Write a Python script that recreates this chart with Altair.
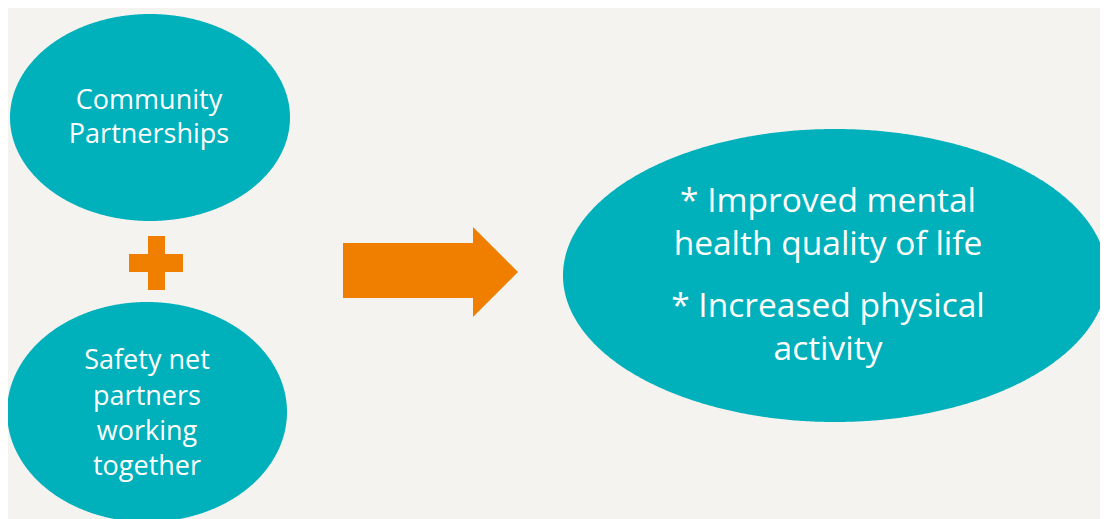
import numpy as np
import pandas as pd
import altair as alt

# ---- shape data (in reference-pixel coordinates) ----
ellipse_id = ["community", "safety", "outcomes"]
ellipse_cx = [150, 147, 835]
ellipse_cy = [117.5, 412, 275.5]
ellipse_rx = [140, 140, 272]
ellipse_ry = [103.5, 110, 146.5]

plus_bar_id = ["vertical", "horizontal"]
plus_x1 = [148, 129]
plus_x2 = [165, 183]
plus_y1 = [236, 254]
plus_y2 = [290, 272]

arrow_shaft = {"x1": 343, "x2": 473, "y1": 243, "y2": 298}
arrow_head_x = [473, 518]
arrow_head_top = [227, 272]
arrow_head_bottom = [317, 272]

label_text = ["Community", "Partnerships",
              "Safety net", "partners", "working", "together",
              "* Improved mental", "health quality of life",
              "* Increased physical", "activity"]
label_x = [149, 149, 147, 147, 147, 147, 828, 828, 828, 828]
label_y = [109, 143, 369, 405, 440, 475, 212, 255, 317, 360]
label_size = [27, 27, 27, 27, 27, 27, 33.5, 33.5, 33.5, 33.5]

TEAL = "#00B0BB"
ORANGE = "#F07F00"
BG = "#F4F3EF"

# build ellipse outlines via parametric sampling
frames = []
t = np.linspace(0, np.pi, 361)
for eid, cx, cy, rx, ry in zip(ellipse_id, ellipse_cx, ellipse_cy, ellipse_rx, ellipse_ry):
    h = ry * np.sin(t)
    frames.append(pd.DataFrame({"id": eid, "x": cx - rx * np.cos(t), "y": cy - h, "y2": cy + h}))

W, H = 1092, 511
xs = alt.Scale(domain=[8, 8 + W], range=[0, W], nice=False, zero=False)
ys = alt.Scale(domain=[8, 8 + H], range=[0, H], nice=False, zero=False)

def X(f):
    return alt.X(f, type="quantitative", scale=xs, axis=None)

def Y(f):
    return alt.Y(f, type="quantitative", scale=ys, axis=None)

ellipse_layers = [
    alt.Chart(df).mark_area(color=TEAL, clip=True).encode(x=X("x"), y=Y("y"), y2="y2")
    for df in frames
]

plus_df = pd.DataFrame({"id": plus_bar_id, "x1": plus_x1, "x2": plus_x2, "y1": plus_y1, "y2": plus_y2})
plus = alt.Chart(plus_df).mark_rect(color=ORANGE).encode(
    x=X("x1"), x2="x2", y=Y("y1"), y2="y2"
)

shaft_df = pd.DataFrame([arrow_shaft])
shaft = alt.Chart(shaft_df).mark_rect(color=ORANGE).encode(
    x=X("x1"), x2="x2", y=Y("y1"), y2="y2"
)

head_df = pd.DataFrame({"x": arrow_head_x, "y": arrow_head_top, "y2": arrow_head_bottom})
head = alt.Chart(head_df).mark_area(color=ORANGE).encode(
    x=X("x"), y=Y("y"), y2="y2"
)

lab_df = pd.DataFrame({"text": label_text, "x": label_x, "y": label_y, "size": label_size})
labels = alt.Chart(lab_df).mark_text(
    color="white", font="Open Sans", align="center", baseline="alphabetic"
).encode(
    x=X("x"), y=Y("y"), text="text:N",
    size=alt.Size("size:Q", scale=None, legend=None)
)

chart = alt.layer(*ellipse_layers, plus, shaft, head, labels).properties(
    width=W, height=H, padding=0, autosize=alt.AutoSizeParams(type="none"),
    background=BG
).configure_view(stroke=None)

chart.save("out.html", embed_options={"renderer": "svg", "actions": False})
